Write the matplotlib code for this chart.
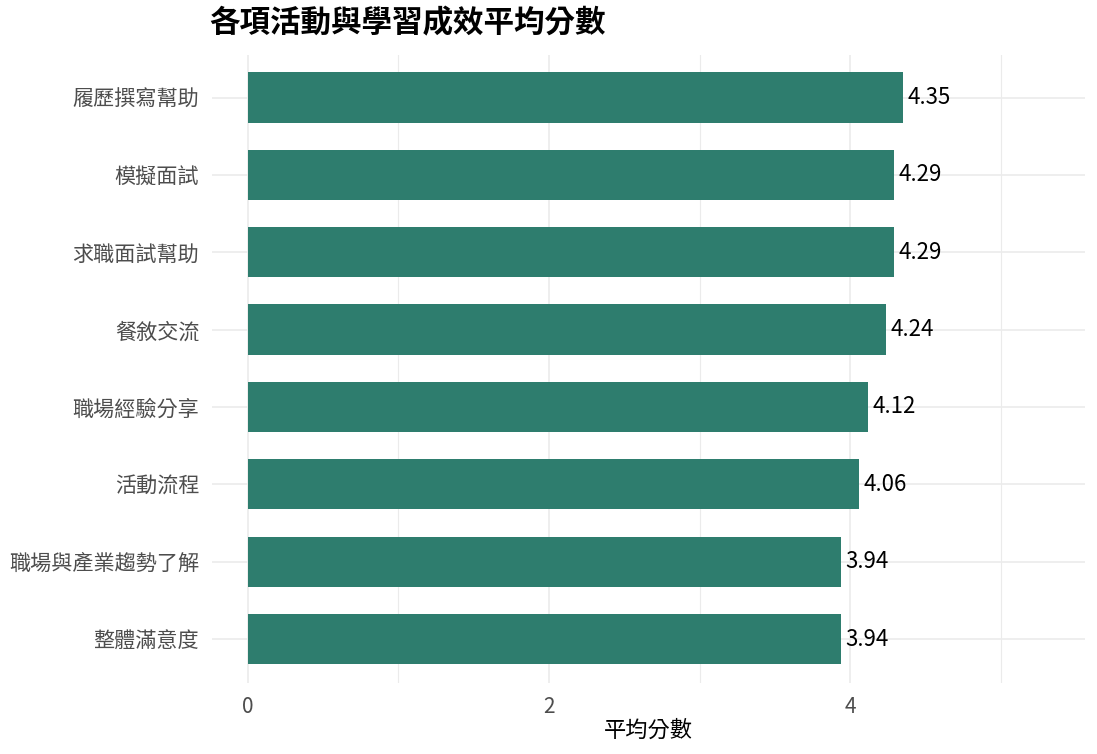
import matplotlib
matplotlib.use("Agg")
import matplotlib.pyplot as plt

plt.rcParams['font.family'] = ['Noto Sans CJK TC', 'DejaVu Sans']

# 資料
categories = ['整體滿意度', '職場與產業趨勢了解', '活動流程', '職場經驗分享',
              '餐敘交流', '求職面試幫助', '模擬面試', '履歷撰寫幫助']
scores = [3.94, 3.94, 4.06, 4.12, 4.24, 4.29, 4.29, 4.35]
x_ticks = [0, 2, 4]
x_minor = [1, 3, 5]

bar_color = '#2E7D6E'
grid_color = '#EBEBEB'

fig = plt.figure(figsize=(10.97, 7.54), dpi=100)
ax = fig.add_axes([0.193, 0.094, 0.796, 0.833])

ypos = list(range(1, len(categories) + 1))
ax.barh(ypos, scores, height=0.65, color=bar_color, zorder=3)

for y, v in zip(ypos, scores):
    ax.text(v + 0.03, y, f'{v:.2f}', va='center', ha='left',
            fontsize=16, color='black', zorder=4)

ax.set_xlim(-0.24, 5.56)
ax.set_ylim(0.43, 8.55)
ax.set_yticks(ypos)
ax.set_yticklabels(categories, fontsize=15.2, color='#4D4D4D')
ax.set_xticks(x_ticks)
ax.set_xticklabels([str(t) for t in x_ticks], fontsize=15, color='#4D4D4D')
ax.set_xticks(x_minor, minor=True)
ax.tick_params(axis='both', which='both', length=0)
ax.tick_params(axis='y', pad=9)
ax.tick_params(axis='x', pad=9)

ax.grid(True, which='major', color=grid_color, linewidth=1.2, zorder=0)
ax.grid(True, which='minor', axis='x', color=grid_color, linewidth=0.8, zorder=0)
for s in ax.spines.values():
    s.set_visible(False)

ax.set_xlabel('平均分數', fontsize=16, color='black', labelpad=1)
fig.text(0.191, 0.969, '各項活動與學習成效平均分數', fontsize=22,
         fontweight='bold', ha='left', va='center')

fig.savefig('out.png', dpi=100, facecolor='white')
